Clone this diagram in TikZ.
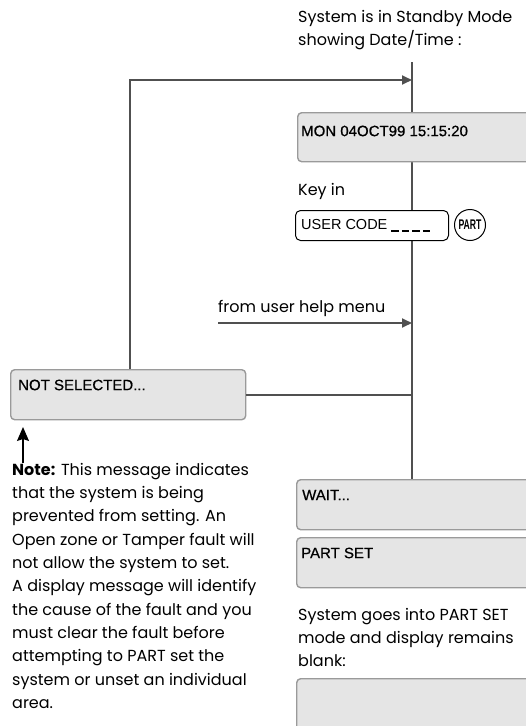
\documentclass[tikz,border=0pt]{standalone}
\usepackage{fontspec}
\setmainfont{Poppins}
\newfontfamily\boxfont{Liberation Sans}[FakeBold=0.7]
\newfontfamily\keyfont{Liberation Sans}
\usetikzlibrary{arrows.meta}
\definecolor{linegray}{HTML}{505050}
\definecolor{boxfill}{HTML}{E5E5E5}
\definecolor{boxedge}{HTML}{9A9A9A}
\begin{document}
\begin{tikzpicture}[x=1pt,y=-1pt,
  flow/.style={draw=linegray, line width=1.8pt},
  arr/.style={flow, -{Triangle[length=10pt,width=9pt]}},
  lcd/.style={draw=boxedge, fill=boxfill, line width=1.4pt, rounded corners=4pt,
    minimum height=50pt, minimum width=260pt, anchor=north west, inner sep=0pt},
  lcdtxt/.style={font=\boxfont\fontsize{15}{17}\selectfont, anchor=west, inner sep=0pt},
  body/.style={font=\fontsize{16}{23.3}\selectfont, align=left, anchor=north west, inner sep=0pt}
]
\useasboundingbox (0,0) rectangle (526,726);
\clip (0,0) rectangle (526,726);
% spine
\coordinate (spinetop) at (412,62);
\coordinate (spinebot) at (412,479);
\draw[flow] (spinetop) -- (spinebot);
% texts
\node[body] (standby) at (298,10) {System is in Standby Mode\\showing Date/Time :};
% MON box
\node[lcd, minimum height=49pt] (mon) at (297,112) {};
\node[lcdtxt] (montxt) at (301,131) {MON 04OCT99 15:15:20};
\node[body] (keyin) at (298,183) {Key in};
\node[draw=black, fill=white, line width=1pt, rounded corners=5pt, minimum width=153pt,
  minimum height=30pt, anchor=north west, inner sep=0pt] (uc) at (295,210) {};
\node[font=\keyfont\fontsize{14.5}{16}\selectfont, anchor=west, inner sep=0pt] (uctxt) at (301,226)
  {USER CODE \rule[-2.5pt]{7.5pt}{2pt}\kern3pt\rule[-2.5pt]{7.5pt}{2pt}\kern3pt\rule[-2.5pt]{7.5pt}{2pt}\kern3pt\rule[-2.5pt]{7.5pt}{2pt}};
\node[draw=black, circle, line width=1pt, minimum size=31pt, inner sep=0pt,
  font=\keyfont\bfseries\fontsize{14}{14}\selectfont] (part) at (470,225) {\scalebox{0.62}[1]{PART}};
% from user help menu
\node[body] (helptxt) at (218,300) {from user help menu};
\coordinate (helpstart) at (218,323);
\draw[arr] (helpstart) -- (helpstart -| spinetop);
% NOT SELECTED
\node[lcd, minimum width=235pt] (nots) at (10,369) {};
\node[lcdtxt] (notstxt) at (18,385) {NOT SELECTED...};
\draw[flow] (nots.east) -- (nots.east -| spinetop);
\coordinate (loopcorner) at (130,80);
\draw[arr] (nots.north -| loopcorner) -- (loopcorner) -- (loopcorner -| spinetop);
% note arrow
\coordinate (notebase) at (23,463);
\coordinate (notetip) at (23,427);
\draw[black, line width=1.2pt, -{Stealth[length=14pt,width=12pt,inset=2pt]}] (notebase) -- (notetip);
\node[body] (note) at (12,463) {\textbf{Note:} This message indicates\\that the system is being\\prevented from setting. An\\Open zone or Tamper fault will\\not allow the system to set.\\A display message will identify\\the cause of the fault and you\\must clear the fault before\\attempting to PART set the\\system or unset an individual\\area.};
% WAIT / PART SET
\node[lcd] (wait) at (296,479) {};
\node[lcdtxt] (waittxt) at (302,495) {WAIT...};
\node[lcd] (partset) at (296,537) {};
\node[lcdtxt] (partsettxt) at (301,553) {PART SET};
\node[body] (goes) at (298,608) {System goes into PART SET\\mode and display remains\\blank:};
\node[lcd, minimum height=60pt] (blank) at (296,678) {};
\end{tikzpicture}
\end{document}
